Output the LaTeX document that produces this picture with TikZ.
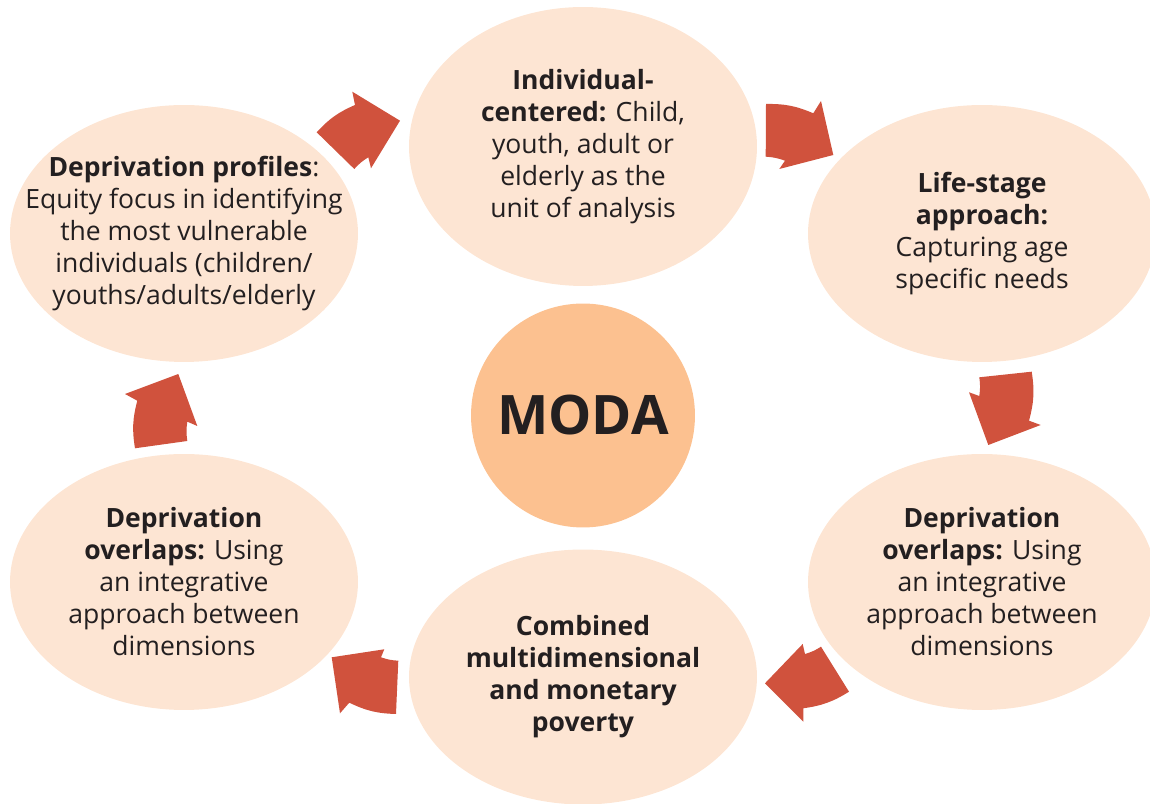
\documentclass[tikz,border=0pt]{standalone}
\usepackage{fontspec}
\setmainfont{Open Sans}
\usepackage{tikz}
\usetikzlibrary{positioning}
\usetikzlibrary{shapes}
\definecolor{peach}{HTML}{FDE5D3}
\definecolor{apricot}{HTML}{FCC190}
\definecolor{brick}{HTML}{D0523D}
\definecolor{ink}{HTML}{231F20}
\tikzset{stagenode/.style={shape=ellipse, minimum width=6.96cm, minimum height=5.14cm, inner sep=0pt, fill=peach, text=ink, align=center, font=\fontsize{15.1}{18.2}\selectfont},
  cyclearrow/.style={fill=brick}}

\begin{document}
\begin{tikzpicture}[x=0.02cm, y=0.02cm]
    \useasboundingbox (0,0) rectangle (1150,804);
    \node[stagenode, minimum height=5.58cm] (indiv) at (583,657.5) {\textbf{Individual-}\\\textbf{centered:} Child,\\youth, adult or\\elderly as the\\unit of analysis};
    \node[stagenode] (life) at (982,570.5) {\textbf{Life-stage}\\\textbf{approach:}\\Capturing age\\specific needs};
    \node[stagenode, minimum height=5.12cm] (overR) at (982,222) {\textbf{Deprivation}\\\textbf{overlaps:} Using\\an integrative\\approach between\\dimensions};
    \node[stagenode, minimum height=5.1cm] (comb) at (583,127) {\textbf{Combined}\\\textbf{multidimensional}\\\textbf{and monetary}\\\textbf{poverty}};
    \node[stagenode, minimum height=5.12cm] (overL) at (184,222) {\textbf{Deprivation}\\\textbf{overlaps:} Using\\an integrative\\approach between\\dimensions};
    \node[stagenode, inner xsep=-0.8cm] (prof) at (184,570.5) {\textbf{Deprivation profiles}:\\Equity focus in identifying\\the most vulnerable\\individuals (children/\\youths/adults/elderly};
    \node[shape=circle, minimum size=4.48cm, inner sep=0pt, fill=apricot, text=ink, font=\fontsize{31}{36}\selectfont\bfseries] (moda) at (583,388.5) {MODA};
    % block arrows, clockwise round MODA
    \fill[cyclearrow] (316.7,671.7) to[bend left=12] (355,699) -- (352.3,712.3) -- (400,683.3)
      -- (371,635.7) -- (368.3,646.7) to[bend right=8] (354.3,635) -- cycle;
    \fill[cyclearrow] (766,700) to[bend left=12] (813.3,690.7) -- (821,703) -- (833.3,649)
      -- (779.3,635) -- (785,643.3) to[bend right=8] (765.7,647.3) -- cycle;
    \fill[cyclearrow] (1031.7,432.3) to[bend left=12] (1029,383.3) -- (1040.7,379) -- (988.3,359)
      -- (969,411.7) -- (979.3,408) to[bend right=8] (979.3,426.7) -- cycle;
    \fill[cyclearrow] (849,112.3) to[bend left=12] (803.3,95.7) -- (803.3,82.3) -- (765,120.7)
      -- (802.7,160) -- (805,150) to[bend right=8] (821,157.3) -- cycle;
    \fill[cyclearrow] (396,90) to[bend left=12] (349.3,101.3) -- (340,90.7) -- (331.7,146.7)
      -- (384.3,154.7) -- (381,146.7) to[bend right=8] (398.3,143.3) -- cycle;
    \fill[cyclearrow] (135,355.7) to[bend left=12] (137.3,403.3) -- (125,410) -- (178.3,430)
      -- (197.3,378) -- (187.3,382.3) to[bend right=8] (187.3,363) -- cycle;
\end{tikzpicture}
\end{document}
